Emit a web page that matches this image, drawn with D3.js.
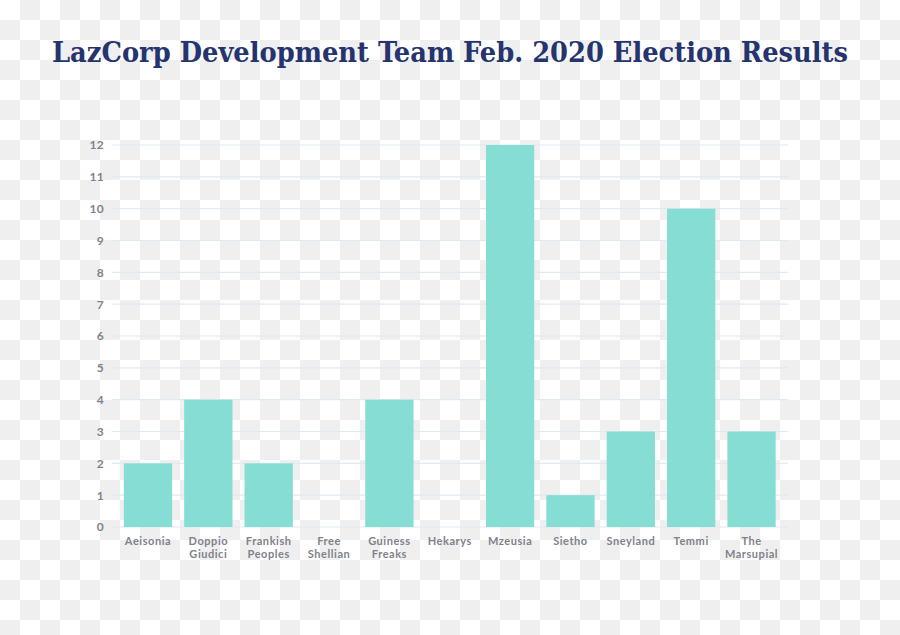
<!DOCTYPE html>
<html><head><meta charset="utf-8">
<script src="https://cdn.jsdelivr.net/npm/d3@7"></script>
<style>
html,body{margin:0;padding:0;background:#fff;}
svg{display:block;}
</style></head>
<body>
<svg id="chart" width="900" height="635"></svg>
<script>
const categories = ["Aeisonia","Doppio Giudici","Frankish Peoples","Free Shellian","Guiness Freaks","Hekarys","Mzeusia","Sietho","Sneyland","Temmi","The Marsupial"];
const votes = [2,4,2,0,4,0,12,1,3,10,3];
const yTicks = [0,1,2,3,4,5,6,7,8,9,10,11,12];
const title = "LazCorp Development Team Feb. 2020 Election Results";

const W = 900, H = 635;
const svg = d3.select("#chart");

// checkerboard background
const defs = svg.append("defs");
const pat = defs.append("pattern").attr("id","chk").attr("width",40).attr("height",40).attr("patternUnits","userSpaceOnUse");
pat.append("rect").attr("width",40).attr("height",40).attr("fill","#ffffff");
pat.append("rect").attr("x",20).attr("y",0).attr("width",20).attr("height",20).attr("fill","#efefef");
pat.append("rect").attr("x",0).attr("y",20).attr("width",20).attr("height",20).attr("fill","#efefef");
svg.append("rect").attr("width",W).attr("height",H).attr("fill","url(#chk)");

const tt = svg.append("text").attr("x",450).attr("y",62).attr("text-anchor","middle")
  .attr("font-family","DejaVu Serif").attr("font-weight","bold").attr("font-size",27)
  .style("font-stretch","condensed")
  .attr("fill","#25346f").text(title);
const tw = tt.node().getComputedTextLength();
if (Math.abs(tw - 796) > 4) tt.attr("textLength",796).attr("lengthAdjust","spacingAndGlyphs");

const x = d3.scaleBand().domain(categories).range([117.8, 781.7]).paddingInner(0.2).paddingOuter(0.1);
const y = d3.scaleLinear().domain([0,12]).range([527,145]);

// gridlines
svg.append("g").selectAll("line").data(yTicks).join("line")
  .attr("x1",112).attr("x2",788).attr("y1",d=>y(d)).attr("y2",d=>y(d))
  .attr("stroke","#e2e9f0").attr("stroke-width",1.2);

// y axis labels
const yAxis = d3.axisLeft(y).tickValues(yTicks).tickSize(0).tickPadding(0);
const gy = svg.append("g").attr("transform","translate(104,0)").call(yAxis);
gy.select(".domain").remove();
gy.selectAll("text").attr("font-family","Lato").attr("font-weight","bold").attr("font-size",12)
  .attr("letter-spacing",0.3).attr("fill","#7e828b");

// bars
svg.append("g").selectAll("rect").data(categories).join("rect")
  .attr("x",d=>x(d)).attr("width",x.bandwidth())
  .attr("y",(d,i)=>y(votes[i])).attr("height",(d,i)=>y(0)-y(votes[i]))
  .attr("fill","#86ddd4");

// x labels
const xAxis = d3.axisBottom(x).tickSize(0).tickPadding(0);
const gx = svg.append("g").attr("transform","translate(0,527)").call(xAxis);
gx.select(".domain").remove();
gx.selectAll("text").each(function(d){
  const t = d3.select(this);
  t.text(null).attr("y",0).attr("dy",null);
  const parts = d.split(" ");
  parts.forEach((p,i)=>{
    t.append("tspan").attr("x",0).attr("y",17.5 + i*13.4).text(p);
  });
}).attr("font-family","Lato").attr("font-weight","bold").attr("font-size",11)
  .attr("letter-spacing",0.55).attr("fill","#7e828b");
</script>
</body></html>
